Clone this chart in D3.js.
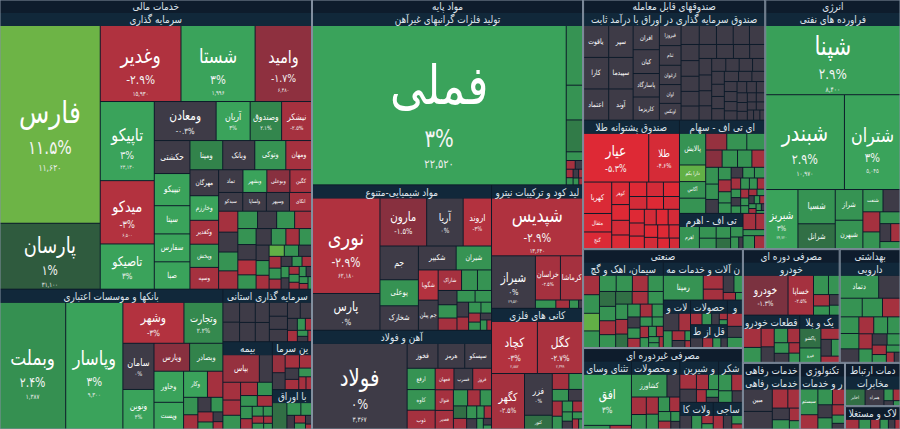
<!DOCTYPE html>
<html lang="fa">
<head>
<meta charset="UTF-8">
<title>نقشه بازار</title>
<script src="https://d3js.org/d3.v7.min.js"></script>
<style>
  html, body { margin: 0; padding: 0; background: #0d1b2a; }
  svg { display: block; font-family: "DejaVu Sans", sans-serif; }
</style>
</head>
<body>
<svg id="map" width="900" height="429"></svg>
<script>
// گروه ها (بخش های بازار)
const sectors = ["خدمات مالی", "مواد پایه", "صندوقهای قابل معامله", "انرژی", "صنعتی",
  "مصرفی غیردوره ای", "مصرفی دوره ای", "بهداشتی", "خدمات رفاهی", "تکنولوژی",
  "خدمات ارتباطی", "املاک و مستغلات"];

// [نماد, ارزش, درصد تغییر, قیمت]
const sarmayeGozari = [
  ["فارس", 1980, 11.5, "11,620"], ["پارسان", 660, 1, "31,100"], ["وغدیر", 610, -2.9, "15,930"],
  ["شستا", 560, 3, "1,996"], ["وامید", 430, -1.7, "6,480"], ["تاپیکو", 425, 3, "23,130"],
  ["میدکو", 340, -3, "6,500"], ["تاصیکو", 243, 3], ["ومعادن", 240, -0.3], ["آریان", 132, 3],
  ["وصندوق", 122, 2.1], ["نیشکر", 118, -2.5], ["حکشتی", 117, 0], ["تیپیکو", 114, 3],
  ["سیتا", 100, 3], ["سفارس", 99, 3], ["صبا", 97, 3], ["ومپنا", 95, 2], ["وبانک", 93, 0],
  ["وتوکی", 90, 2.5], ["ومهان", 76, -2.5], ["مهرگان", 74, 0], ["وخارزم", 70, 3],
  ["وکغدیر", 68, -2.5], ["وپخش", 66, 2.5], ["وسپه", 62, -2.5], ["تماد", 55, 0],
  ["وبشهر", 54, 3], ["وبوعلی", 52, -1.5], ["کگین", 50, -2.5], ["سیدکو", 45, 0],
  ["ولساپا", 44, 0], ["وسپهر", 43, 0], ["اتکای", 42, -2.5],
  ["", 40, -2.5], ["", 38, 0], ["", 36, 2.5], ["", 35, -2.5], ["", 34, 2.5], ["", 33, 0],
  ["", 31, 2.5], ["", 30, -2.5], ["", 29, 2.5], ["", 28, 0], ["", 27, -3], ["", 26, 2.5],
  ["", 25, 0], ["", 24, 2.5], ["", 22, -2.5], ["", 21, 2.5], ["", 20, 0], ["", 19, 2.5],
  ["", 18, -2.5], ["", 17, 5], ["", 16, 2.5], ["", 15, 0], ["", 14, -2.5], ["", 13, 2.5],
  ["", 12, -2.5], ["", 11, 0], ["", 10, 2.5], ["", 10, -2.5], ["", 9, 2.5], ["", 9, 0],
  ["", 8, -2.5], ["", 8, 2.5], ["", 7, -2.5], ["", 7, 2.5], ["", 6, 0], ["", 6, 2.5],
  ["", 5, -2.5], ["", 5, 2.5]
];
const bankha = [
  ["وبملت", 880, 2.4, "1,387"], ["وپاسار", 760, 3, "9,300"], ["وشهر", 262, -3], ["وتجارت", 167, 2.2],
  ["سامان", 150, 0], ["ونوین", 130, 3], ["وپارس", 104, -1.5], ["وبصادر", 97, 2], ["وخاور", 96, 3],
  ["وپست", 84, 3], ["وکار", 65, 3], ["وکریم", 42, -2.5],
  ["", 26, 2.5], ["", 22, -2.5], ["", 20, 0], ["", 18, 2.5], ["", 16, -2.5], ["", 12, 2.5],
  ["", 10, 0], ["", 8, -2.5]
];
const ostani = [
  ["وسکاب", 42, 0], ["وسرضوی", 41, 0], ["", 40, 0], ["", 38, 0], ["", 36, 0], ["", 34, 0],
  ["", 32, 0], ["", 30, 0], ["", 28, 0], ["", 26, 0], ["", 24, 0], ["", 15, 0], ["", 14, -2.5],
  ["", 12, 2.5], ["", 10, -2.5], ["", 8, 2.5], ["", 7, 0], ["", 6, -2.5]
];
const bimeh = [
  ["بپاس", 112, -2], ["", 40, 0], ["", 35, -2.5], ["", 30, -2.5], ["", 28, 2.5], ["", 25, -2.5],
  ["", 22, 2.5], ["", 20, 2.5], ["", 18, -2.5], ["", 16, 2.5], ["", 14, -2.5], ["", 12, 2.5],
  ["", 10, 2.5], ["", 9, -2.5], ["", 8, 2.5], ["", 7, -2.5], ["", 6, 2.5]
];
const taminSarmayeh = [
  ["لوتوس", 30, -2], ["", 28, 0], ["", 25, -2.5], ["", 22, -2.5], ["", 20, 0], ["", 18, -2.5],
  ["", 15, 2.5], ["", 12, -2.5], ["", 10, -2.5]
];
const avraghBahador = [
  ["آوا", 55, 1.5], ["", 25, 2.5], ["", 20, 2.5], ["", 15, 0], ["", 12, -2.5], ["", 10, 2.5],
  ["", 8, 0], ["", 5, -2.5]
];
const felezatGranbaha = [
  ["فملی", 4150, 3, "22,520"], ["", 103, 2.5], ["", 60, 2.5], ["", 55, 1.8], ["", 15, 2.5],
  ["", 8, -2.5], ["", 7, 0], ["", 6, -2.5], ["", 5, 2.5], ["", 5, 0], ["", 4, -2.5], ["", 4, 2.5],
  ["", 3, -2.5]
];
const shimiyaei = [
  ["نوری", 676, -2.9, "62,180"], ["پارس", 260, 0], ["مارون", 234, -1.5, "55,250"],
  ["آریا", 183, 0, "35,300"], ["اروند", 142, -3, "1,330"], ["جم", 135, 0], ["پوعلی", 104, 2.5],
  ["شخارک", 98, 0], ["شکبیر", 94, 0], ["شیران", 88, 2.5], ["شگویا", 62, -3], ["جم پیلن", 62, 0],
  ["شاراک", 50, -2.5], ["زاگرس", 34, 2.5],
  ["", 30, 2.5], ["", 28, 0], ["", 26, 2.5], ["", 24, -2.5], ["", 22, 2.5], ["", 20, 2.5],
  ["", 18, 0], ["", 16, -2.5], ["", 14, 2.5], ["", 12, 2.5], ["", 11, -2.5], ["", 10, 2.5],
  ["", 8, 0], ["", 7, 2.5], ["", 5, -2.5]
];
const ahanFolad = [
  ["فولاد", 894, 0, "3,367"], ["فخوز", 84, 0], ["هرمز", 73, 0], ["سپسکو", 73, 0], ["ارفع", 65, 2.5],
  ["کاوه", 63, 2.5], ["ذوب", 59, -2.5], ["فجهان", 44, -2.5], ["فسرب", 44, 0], ["فروز", 44, -2.5],
  ["فنوال", 41, -2.5], ["فغدیر", 38, -2.5],
  ["", 25, 2.5], ["", 22, -2.5], ["", 20, 2.5], ["", 18, 1.5], ["", 16, -2.5], ["", 14, 2.5],
  ["", 12, 0], ["", 10, 2.5], ["", 10, -2.5], ["", 8, 2.5], ["", 6, 0], ["", 4, 2.5]
];
const kood = [
  ["شپدیس", 562, -2.9, "13,640"], ["شیراز", 244, 0, "29,520"], ["خراسان", 117, -2.5],
  ["کرماشا", 106, -2.5], ["", 18, 2.5], ["", 12, -2.5], ["", 8, 2.5], ["", 4, 0]
];
const kaniFelezi = [
  ["کچاد", 254, -3, "2,882"], ["کگل", 253, -2.7, "2,399"], ["کگهر", 196, -2.5], ["فزر", 123, 0],
  ["کنور", 42, 1.5], ["", 28, -2.5], ["", 24, 2.5], ["", 20, 2.5], ["", 18, 0], ["", 16, -2.5],
  ["", 14, 2.5], ["", 12, 2.5], ["", 12, -2.5], ["", 10, 2.5], ["", 9, 0], ["", 8, 2.5],
  ["", 7, -2.5], ["", 5, 2.5]
];
const daramadSabet = [
  ["یاقوت", 90, 0], ["کارا", 89, 0], ["اعتماد", 88, 0], ["سپر", 86, 0], ["سپیدما", 85, 0],
  ["آوند", 84, 0], ["افران", 70, 0], ["کیان", 69, 0], ["پاسارگاد", 68, 0], ["کاریزما", 67, 0],
  ["فیروزا", 48, 0], ["ثنام", 47, 0], ["ارغوان", 46, 0], ["اوان", 45, 0], ["اوبکس", 40, 0],
  ["", 38, 0], ["", 36, 0], ["", 35, 0], ["", 34, 0], ["", 33, 0], ["", 32, 0], ["", 31, 0],
  ["", 30, 0], ["", 29, 0], ["", 28, 0], ["", 27, 0], ["", 26, 0], ["", 25, 0], ["", 24, 0],
  ["", 23, 0], ["", 22, 0], ["", 21, 0], ["", 20, 0], ["", 20, 0], ["", 19, 0], ["", 19, 0],
  ["", 18, 0], ["", 18, 0], ["", 17, 0], ["", 17, 0], ["", 16, 0], ["", 16, 0], ["", 15, 0],
  ["", 15, 0], ["", 14, 0], ["", 14, 0], ["", 13, 0], ["", 13, 0], ["", 12, 0], ["", 12, 0],
  ["", 11, 0], ["", 11, 0], ["", 10, 0], ["", 10, 0], ["", 9, 0], ["", 9, 0], ["", 8, 0],
  ["", 8, 0], ["", 7, 0], ["", 7, 0], ["", 6, 0]
];
const talaFund = [
  ["عیار", 346, -5.3, "335,550"], ["طلا", 162, -4.6, "318,000"], ["کهربا", 97, -4.8],
  ["مثقال", 57, -4.8], ["گنج", 53, -4.8], ["گوهر", 43, -4.8], ["ناب", 27, -4.8],
  ["", 30, -5], ["", 28, -4.5], ["", 27, -5], ["", 26, -4.5], ["", 25, -5], ["", 24, -4.5],
  ["", 23, -5], ["", 22, -4.5], ["", 22, -5], ["", 21, -4.5], ["", 21, -5], ["", 20, -4.5],
  ["", 20, -5], ["", 19, -4.5], ["", 18, -5], ["", 17, -4.5], ["", 16, -5], ["", 15, -4.5],
  ["", 14, -5], ["", 12, -4.5]
];
const etfSaham = [
  ["پالایش", 94, 2.5], ["دارا یکم", 49, 5], ["آگاس", 49, 2.5],
  ["", 45, 2.5], ["", 40, -2], ["", 38, 2.5], ["", 35, 2.5], ["", 32, -1.5], ["", 30, 2.5],
  ["", 28, 2.5], ["", 26, -2.5], ["", 24, 2.5], ["", 22, 2.5], ["", 20, 0], ["", 18, 2.5],
  ["", 17, -2.5], ["", 16, 2.5], ["", 15, 2.5], ["", 14, 0], ["", 14, 2.5], ["", 13, 2.5],
  ["", 12, -2.5], ["", 11, 2.5], ["", 10, 2.5], ["", 10, -2.5], ["", 9, 2.5], ["", 9, 0],
  ["", 8, 2.5], ["", 8, -2.5], ["", 7, 2.5], ["", 7, 2.5], ["", 6, -2.5], ["", 6, 2.5],
  ["", 5, 0], ["", 5, 2.5], ["", 5, -2.5], ["", 4, 2.5], ["", 4, -2.5], ["", 4, 2.5],
  ["", 3, 0], ["", 3, 2.5]
];
const etfAhromi = [
  ["اهرم", 69, 2.5], ["", 30, 2.5], ["", 28, 2.5], ["", 26, 2.5], ["", 24, 1.5], ["", 20, 2.5],
  ["", 15, 2.5], ["", 8, 0]
];
const etfBahador = [["", 20, -2.5], ["", 15, -2.5], ["", 13, 2.5]];
const etfMokhtalet = [["", 15, 2.5], ["", 14, -2.5]];
const faravardeNafti = [
  ["شپنا", 960, 2.9, "8,400"], ["شبندر", 770, 2.9, "10,970"], ["شتران", 545, 3, "5,045"],
  ["شبریز", 200, 3, "24,720"], ["شسپا", 131, 2.5], ["شرانل", 97, 1.5], ["شراز", 87, 2.5],
  ["شبهرن", 82, 2.5], ["شنفت", 46, 2.5], ["", 40, 0], ["", 35, -2.5], ["", 30, 2.5],
  ["", 25, 2.5], ["", 20, 0], ["", 18, -2.5], ["", 16, 2.5]
];
const siman = [
  ["ساوه", 40, -2.5], ["سدوران", 38, 2.5], ["ساربیل", 36, 5], ["", 35, 2.5], ["", 34, 2.5],
  ["", 33, 2.5], ["", 32, -2.5], ["", 31, 2.5], ["", 30, 1.5], ["", 29, 2.5], ["", 28, -2.5],
  ["", 27, 2.5], ["", 26, 1.5], ["", 25, -2.5], ["", 24, 2.5], ["", 23, 2.5], ["", 22, -2.5],
  ["", 21, 1.5], ["", 20, 2.5], ["", 19, -2.5], ["", 18, 2.5], ["", 17, 0], ["", 16, 2.5],
  ["", 15, -2.5], ["", 14, 2.5], ["", 13, 2.5], ["", 12, -2.5], ["", 11, 2.5], ["", 10, 2.5],
  ["", 9, -2.5], ["", 8, 2.5], ["", 7, 2.5], ["", 6, -2.5]
];
const fanniMohandesi = [["رمپنا", 160, 2.5], ["", 45, -2.5], ["", 35, -2.5], ["", 30, 0], ["", 25, 2.5], ["", 15, -2.5], ["", 9, 2.5]];
const mashinAlat = [["", 40, 0], ["", 30, -2.5], ["", 22, 2.5], ["", 18, -2.5], ["", 14, 0], ["", 8, 2.5], ["", 6, -2.5]];
const mahsulatFelezi = [["", 30, -2.5], ["", 25, 2.5], ["", 20, 0], ["", 12, -2.5], ["", 9, 2.5]];
const hamlONaghl = [["", 30, 0], ["", 25, -2.5], ["", 20, 2.5], ["", 16, 0]];
const keshtirani = [["", 30, -2.5], ["", 25, 0], ["", 24, 2.5]];
const khordeForoshi = [["افق", 335, 3], ["", 15, 2.5], ["", 12, -2.5]];
const keshavarzi = [
  ["کشاورز", 110, 2.5], ["", 40, 0], ["", 35, -2.5], ["", 30, 2.5], ["", 28, -2.5], ["", 25, 2.5],
  ["", 22, 2.5], ["", 20, -2.5], ["", 16, 2.5], ["", 14, -2.5], ["", 12, 2.5], ["", 10, 0]
];
const shirinijat = [["", 40, -2.5], ["", 35, 0], ["", 30, -2.5], ["", 25, 2.5], ["", 20, -2.5], ["", 15, 2.5], ["", 10, 0]];
const ghandShekar = [["", 35, 2.5], ["", 30, -2.5], ["", 25, 2.5], ["", 20, 0]];
const kaghazi = [["", 35, 0], ["", 30, 2.5], ["", 20, -2.5], ["", 14, 2.5]];
const nasaji = [["", 30, -2.5], ["", 25, 0], ["", 20, 2.5], ["", 13, -2.5]];
const khodro = [["خودرو", 248, -1.3], ["خساپا", 140, -2.5], ["", 40, 2.5], ["", 30, 2.5], ["", 25, -2.5], ["", 20, 2.5], ["", 15, 0], ["", 14, 2.5]];
const lastik = [["پاکشو", 60, 1.5], ["فیرو", 45, 2.5], ["", 30, -2.5], ["", 25, 0], ["", 20, 2.5], ["", 18, -2.5]];
const ghataat = [["", 50, -2.5], ["", 40, 2.5], ["", 35, -2.5], ["", 30, 0], ["", 28, 2.5], ["", 25, -2.5], ["", 22, 2.5], ["", 20, 0], ["", 16, -2.5], ["", 15, 2.5]];
const darouei = [
  ["دتماد", 107, 2.5], ["", 60, 0], ["", 50, 2.5], ["", 45, 2.5], ["", 40, -2.5], ["", 38, 2.5],
  ["", 35, 2.5], ["", 32, 0], ["", 30, -2.5], ["", 28, 2.5], ["", 26, 2.5], ["", 24, -2.5],
  ["", 22, 2.5], ["", 20, 0], ["", 18, 2.5], ["", 16, -2.5], ["", 14, 2.5], ["", 12, 2.5],
  ["", 10, -2.5], ["", 8, 0]
];
const refahi = [["مبین", 100, 0], ["", 80, 0], ["", 45, -2.5], ["", 35, -2.5], ["", 30, 0], ["", 25, 2.5], ["", 20, -2.5], ["", 14, 2.5]];
const narmafzar = [["سیستم", 70, 2.5], ["", 40, -2.5], ["", 35, 2.5], ["", 30, -2.5], ["", 28, 0], ["", 25, 2.5], ["", 20, -2.5], ["", 16, 2.5], ["", 12, 0]];
const mokhaberat = [["اخابر", 80, 1.5], ["همراه", 75, 0], ["", 25, 2.5], ["", 20, -2.5], ["", 12, 0], ["", 9, 2.5]];
const amlak = [["", 30, -2.5], ["", 25, 2.5], ["", 20, -2.5], ["", 18, 2.5], ["", 14, 0], ["", 12, -2.5]];

// [صنعت, شماره گروه, نمادها]
const industries = [
  ["سرمایه گذاری", 0, sarmayeGozari],
  ["بانکها و موسسات اعتباری", 0, bankha],
  ["سرمایه گذاری استانی", 0, ostani],
  ["بیمه", 0, bimeh],
  ["تامین سرمایه", 0, taminSarmayeh],
  ["مرتبط با اوراق بهادار", 0, avraghBahador],
  ["تولید فلزات گرانبهای غیرآهن", 1, felezatGranbaha],
  ["مواد شیمیایی-متنوع", 1, shimiyaei],
  ["آهن و فولاد", 1, ahanFolad],
  ["تولید کود و ترکیبات نیتروژن", 1, kood],
  ["کانی های فلزی", 1, kaniFelezi],
  ["صندوق سرمایه گذاری در اوراق با درآمد ثابت", 2, daramadSabet],
  ["صندوق پشتوانه طلا", 2, talaFund],
  ["ای تی اف - سهام", 2, etfSaham],
  ["ای تی اف - اهرمی", 2, etfAhromi],
  ["صندوق اوراق بهادار", 2, etfBahador],
  ["ای تی اف - مختلط", 2, etfMokhtalet],
  ["فراورده های نفتی", 3, faravardeNafti],
  ["سیمان، اهک و گچ", 4, siman],
  ["ماشین آلات و خدمات مهندسی", 4, fanniMohandesi],
  ["ماشین آلات و تجهیزات", 4, mashinAlat],
  ["ساخت محصولات فلزی", 4, mahsulatFelezi],
  ["حمل و نقل از طریق آب", 4, hamlONaghl],
  ["حمل و نقل و کشتیرانی", 4, keshtirani],
  ["خرده فروشی، باستثنای وسایل نقلیه موتوری", 5, khordeForoshi],
  ["کشاورزی و محصولات وابسته", 5, keshavarzi],
  ["قند و شیرینیجات", 5, shirinijat],
  ["شکر", 5, ghandShekar],
  ["محصولات کاغذی", 5, kaghazi],
  ["نساجی", 5, nasaji],
  ["خودرو", 6, khodro],
  ["لاستیک و پلاستیک", 6, lastik],
  ["قطعات خودرو", 6, ghataat],
  ["دارویی", 7, darouei],
  ["خدمات رفاهی", 8, refahi],
  ["نرم افزار و خدمات رایانه", 9, narmafzar],
  ["مخابرات", 10, mokhaberat],
  ["املاک و مستغلات", 11, amlak]
];

const width = 900, height = 429, headH = 13;
const SX = 0.82;        // فشردگی افقی متن نمادها
const HX = 0.85;        // فشردگی افقی سرتیترها
const svg = d3.select("#map");

const tree = {
  name: "بازار",
  children: sectors.map((s, i) => ({
    name: s,
    children: industries.filter(d => d[1] === i).map(d => ({
      name: d[0],
      children: d[2].map(r => ({ name: r[0], value: r[1], change: r[2], price: r[3] }))
    }))
  }))
};

const root = d3.hierarchy(tree)
  .sum(d => d.value || 0)
  .sort((a, b) => b.value - a.value);

// سرتیتر فقط وقتی جا هست
const hasHeader = d => d.depth === 1 || (d.depth === 2 && d.y1 - d.y0 >= 22);

d3.treemap()
  .tile(d3.treemapSquarify.ratio(1))
  .size([width, height])
  .paddingInner(1)
  .paddingTop(d => d.depth > 0 && hasHeader(d) ? headH : 0)
  (root);

const color = d3.scaleLinear()
  .domain([-5, -3, -1.5, -0.4, 0.4, 1, 2, 3, 5, 10])
  .range(["#de2935", "#b3323f", "#88303f", "#3e3b47", "#3e3b47", "#2f5b3e", "#32834b", "#3aa35b", "#62b046", "#6db446"])
  .clamp(true);

const faDigits = s => String(s).replace(/\d/g, c => "۰۱۲۳۴۵۶۷۸۹"[c]);
const pct = c => faDigits((Math.round(c * 10) / 10) + "%");

// متن را از دو طرف کوتاه می کند تا در عرض جا شود
function trimToWidth(t, maxW, sx) {
  let s = t.text(), left = true;
  while (s.length > 1 && t.node().getComputedTextLength() * sx > maxW) {
    s = left ? s.slice(1) : s.slice(0, -1);
    left = !left;
    t.text(s);
  }
}

function putText(g, str, cx, cy, size, dy, fill) {
  return g.append("text")
    .attr("transform", `translate(${cx},${cy}) scale(${SX},1)`)
    .attr("dy", dy).attr("text-anchor", "middle")
    .attr("fill", fill)
    .style("font-size", size + "px")
    .text(str);
}

// خانه های نمادها
const leaf = svg.append("g").selectAll("g")
  .data(root.leaves())
  .join("g");

leaf.append("rect")
  .attr("x", d => d.x0).attr("y", d => d.y0)
  .attr("width", d => Math.max(0, d.x1 - d.x0))
  .attr("height", d => Math.max(0, d.y1 - d.y0))
  .attr("fill", d => color(d.data.change));

leaf.each(function(d) {
  const w = d.x1 - d.x0, h = d.y1 - d.y0;
  if (!d.data.name || w < 16 || h < 11) return;
  const g = d3.select(this);
  const cx = d.x0 + w / 2, cy = d.y0 + h / 2;
  const root2 = Math.sqrt(w * h);
  let fs = Math.min(0.27 * root2, h * 0.55);
  const t = putText(g, d.data.name, cx, cy, fs, "0.3em", "#ffffff");
  const frac = Math.max(0.62, Math.min(0.92, 0.92 - (w - 40) * 0.0093));
  const len = t.node().getComputedTextLength() * SX;
  if (len > w * frac) { fs *= w * frac / len; t.style("font-size", fs + "px"); }
  if (fs < 4.5) { t.remove(); return; }

  const pfs = Math.max(4.8, Math.min(0.65 * fs, 6 + 0.09 * root2));
  const qfs = Math.max(4.2, 0.5 * pfs);
  let showPct = h >= 34 && w >= 24;
  let showPrice = showPct && h >= 48 && !!d.data.price;
  let ny, py, qy;
  const place = () => {
    ny = cy - (showPrice ? 0.33 : 0.38) * fs;
    py = ny + 0.55 * fs + 0.9 * pfs;
    qy = py + 0.6 * pfs + 0.9 * qfs;
    // اگر پایین خانه جا نبود، کل بلوک را بالا می برد
    const bottom = showPrice ? qy + 0.5 * qfs : py + 0.5 * pfs;
    const over = bottom - (d.y1 - 1);
    const room = (ny - 0.45 * fs) - d.y0;
    if (over > 0) { const s = Math.min(over, Math.max(0, room)); ny -= s; py -= s; qy -= s; return over - s; }
    return 0;
  };
  let left = place();
  if (showPrice && left > 1.5) { showPrice = false; left = place(); }
  if (showPct && left > 1.5) { showPct = false; }
  if (!showPct) ny = cy;
  t.attr("transform", `translate(${cx},${ny}) scale(${SX},1)`);
  if (showPct) putText(g, pct(d.data.change), cx, py, pfs, "0.35em", "#f4f4f4");
  if (showPrice) putText(g, faDigits(d.data.price), cx, qy, qfs, "0.35em", "#eeeeee");
});

// سرتیتر صنایع و گروه ها
const heads = root.descendants().filter(d => d.depth > 0 && d.children && hasHeader(d));
const head = svg.append("g").selectAll("g")
  .data(heads)
  .join("g")
  .attr("transform", d => `translate(${d.x0},${d.y0})`);

head.append("rect")
  .attr("width", d => Math.max(0, d.x1 - d.x0)).attr("height", headH)
  .attr("fill", d => d.depth === 1 ? "#0e1c2c" : "#11283a");

head.append("text")
  .attr("transform", d => `translate(${(d.x1 - d.x0) / 2},${headH / 2}) scale(${HX},1)`)
  .attr("dy", "0.35em").attr("text-anchor", "middle")
  .attr("fill", "#dfe5ec")
  .style("font-size", "10.5px")
  .text(d => d.data.name)
  .each(function(d) { trimToWidth(d3.select(this), d.x1 - d.x0 - 3, HX); });

// خطوط مرز گروه ها
svg.append("g").selectAll("rect")
  .data(root.children)
  .join("rect")
  .attr("x", d => d.x0).attr("y", d => d.y0)
  .attr("width", d => d.x1 - d.x0).attr("height", d => d.y1 - d.y0)
  .attr("fill", "none")
  .attr("stroke", "#8390a0")
  .attr("stroke-width", 1);
</script>
</body>
</html>
